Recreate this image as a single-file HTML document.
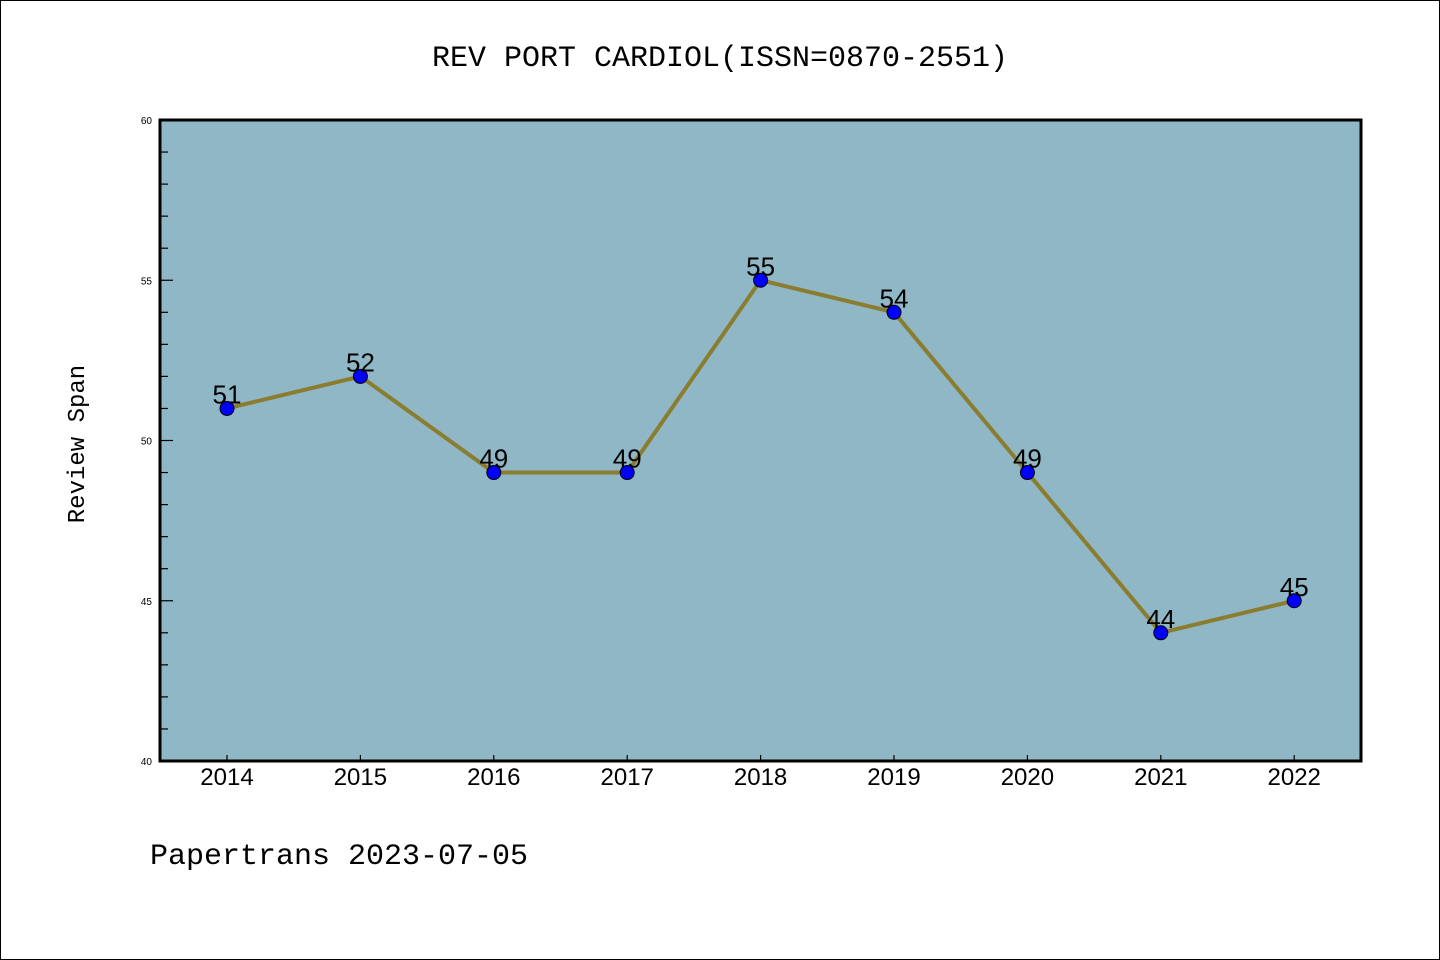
<!DOCTYPE html>
<html><head><meta charset="utf-8"><style>
html,body{margin:0;padding:0;background:#fff}
svg{display:block;font-family:"Liberation Sans","DejaVu Sans",sans-serif}
</style></head><body>
<svg id="chart" width="1440" height="960" viewBox="0 0 1440 960" xmlns="http://www.w3.org/2000/svg">
<rect x="0.5" y="0.5" width="1439" height="959" fill="#fff" stroke="#000" stroke-width="1"/>
<text x="720" y="66" text-anchor="middle" font-family="Liberation Mono, DejaVu Sans Mono, monospace" font-size="30">REV PORT CARDIOL(ISSN=0870-2551)</text>
<rect x="160" y="120" width="1201" height="641" fill="#8fb7c5"/>
<g id="yticks"></g>
<g id="xticks"></g>
<g id="series"></g>
<rect x="160" y="120" width="1201" height="641" fill="none" stroke="#000" stroke-width="3"/>
<text transform="translate(84,444) rotate(-90)" text-anchor="middle" font-family="Liberation Mono, DejaVu Sans Mono, monospace" font-size="24">Review Span</text>
<text x="150" y="864" font-family="Liberation Mono, DejaVu Sans Mono, monospace" font-size="30">Papertrans 2023-07-05</text>
</svg>
<script>
const years = ["2014","2015","2016","2017","2018","2019","2020","2021","2022"];
const values = [51,52,49,49,55,54,49,44,45];
const yTickLabels = ["40","45","50","55","60"];
const NS="http://www.w3.org/2000/svg";
const yMin=40,yMax=60;
function yScale(v){return 761-(v-yMin)/(yMax-yMin)*641;}
function xScale(i){return 227+i*133.4;}
function mk(tag,attrs,parent){const e=document.createElementNS(NS,tag);for(const k in attrs)e.setAttribute(k,attrs[k]);parent.appendChild(e);return e;}
const yg=document.getElementById('yticks');
for(let v=yMin;v<=yMax;v++){
  const major=(v%5===0);
  const y=yScale(v);
  const t=mk('line',{x1:160,x2:major?173:168,y1:y,y2:y,stroke:'#000','stroke-width':1.2},yg);
  
  
}
yTickLabels.forEach(s=>{
  const tx=mk('text',{x:152,y:yScale(+s)+4,'text-anchor':'end','font-size':10},yg);
  tx.textContent=s;
  
  
});
const xg=document.getElementById('xticks');
years.forEach((yr,i)=>{
  const x=xScale(i);
  const t=mk('line',{x1:x,x2:x,y1:761,y2:755,stroke:'#000','stroke-width':1.2},xg);
  
  
  const tx=mk('text',{x:x,y:785,'text-anchor':'middle','font-size':24},xg);
  tx.textContent=yr;
  
  
});
const sg=document.getElementById('series');
const pts=values.map((v,i)=>xScale(i)+','+yScale(v)).join(' ');
const pl=mk('polyline',{points:pts,fill:'none',stroke:'#8b7d30','stroke-width':4,'stroke-linejoin':'round'},sg);


values.forEach((v,i)=>{
  const c=mk('circle',{cx:xScale(i),cy:yScale(v),r:7,fill:'#0000ff',stroke:'#000','stroke-width':1},sg);
  
  
  const tx=mk('text',{x:xScale(i),y:yScale(v)-5,'text-anchor':'middle','font-size':26},sg);
  tx.textContent=String(v);
  
  
});
</script>
</body></html>
